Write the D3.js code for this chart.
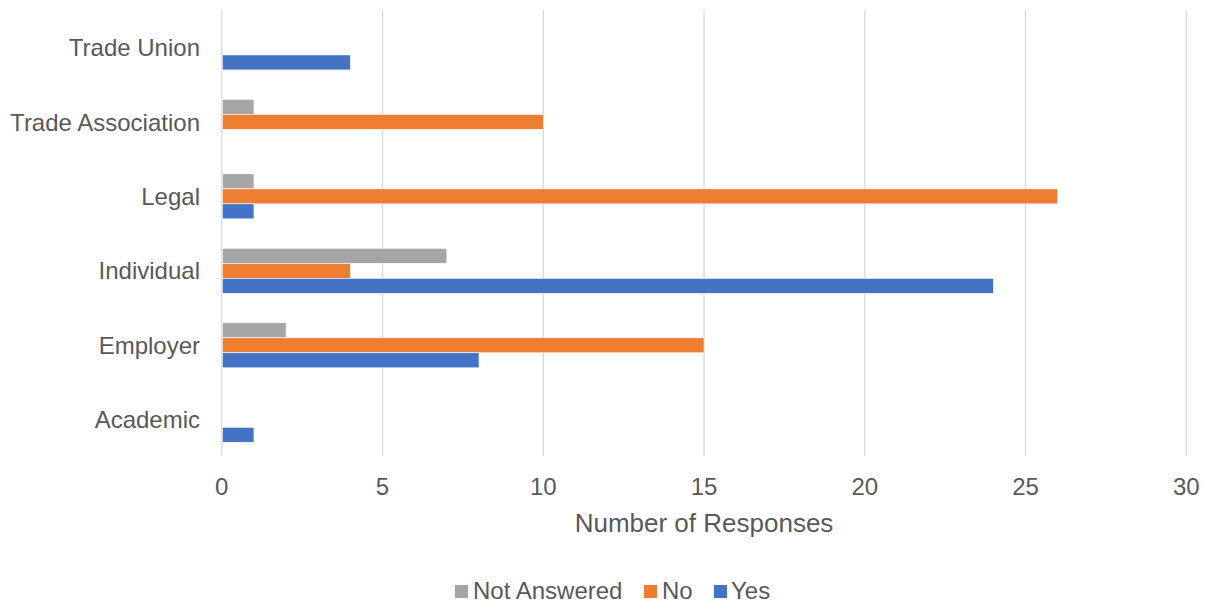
<!DOCTYPE html>
<html>
<head>
<meta charset="utf-8">
<script src="https://cdn.jsdelivr.net/npm/d3@7"></script>
<style>
  html, body { margin: 0; padding: 0; background: #fff; }
  svg text { font-family: "Liberation Sans", Arial, Helvetica, sans-serif; fill: #595959; }
</style>
</head>
<body>
<svg id="chart" width="1206" height="608"></svg>
<script>
// Data (top-to-bottom order as displayed)
const categories = ["Trade Union", "Trade Association", "Legal", "Individual", "Employer", "Academic"];
const seriesNames = ["Not Answered", "No", "Yes"];
const notAnswered = [0, 1, 1, 7, 2, 0];
const no = [0, 10, 26, 4, 15, 0];
const yes = [4, 0, 1, 24, 8, 1];
const xTicks = [0, 5, 10, 15, 20, 25, 30];
const colors = ["#A5A5A5", "#ED7D31", "#4472C4"];

const seriesValues = [notAnswered, no, yes];

const svg = d3.select("#chart");
const mLeft = 221.8, mRight = 1186.3, mTop = 10.2, mBottom = 457;

const x = d3.scaleLinear().domain([0, 30]).range([mLeft, mRight]);
const y = d3.scaleBand().domain(categories).range([mTop, mBottom]).paddingInner(0).paddingOuter(0);
const groupH = 45;
const ys = d3.scaleBand().domain(seriesNames).range([0, groupH]);

// gridlines
svg.append("g").selectAll("line").data(xTicks).join("line")
  .attr("x1", d => x(d)).attr("x2", d => x(d))
  .attr("y1", mTop).attr("y2", mBottom - 1)
  .attr("stroke", "#D9D9D9").attr("stroke-width", 1.3);

// bars
const bars = [];
categories.forEach((c, i) => {
  seriesNames.forEach((s, j) => {
    bars.push({ cat: c, series: s, value: seriesValues[j][i], color: colors[j] });
  });
});
svg.append("g").selectAll("rect").data(bars.filter(d => d.value > 0)).join("rect")
  .attr("x", x(0) + 0.5)
  .attr("y", d => y(d.cat) + y.bandwidth() / 2 - groupH / 2 + ys(d.series))
  .attr("width", d => x(d.value) - x(0) - 0.5)
  .attr("height", ys.bandwidth())
  .attr("fill", d => d.color)
  .attr("stroke", "#fff").attr("stroke-width", 0.6);

// category labels
svg.append("g").selectAll("text").data(categories).join("text")
  .attr("x", 200)
  .attr("y", d => y(d) + y.bandwidth() / 2 + 8.6)
  .attr("text-anchor", "end")
  .attr("font-size", 24)
  .text(d => d);

// x tick labels
svg.append("g").selectAll("text").data(xTicks).join("text")
  .attr("x", d => x(d))
  .attr("y", 495)
  .attr("text-anchor", "middle")
  .attr("font-size", 24)
  .text(d => d);

// axis title
svg.append("text")
  .attr("x", 704).attr("y", 532)
  .attr("text-anchor", "middle")
  .attr("font-size", 26)
  .text("Number of Responses");

// legend
const legendItems = [
  { name: "Not Answered", color: colors[0], sx: 455, tx: 473 },
  { name: "No", color: colors[1], sx: 644, tx: 662 },
  { name: "Yes", color: colors[2], sx: 714, tx: 731 }
];
const lg = svg.append("g");
lg.selectAll("rect").data(legendItems).join("rect")
  .attr("x", d => d.sx).attr("y", 585).attr("width", 13).attr("height", 13)
  .attr("fill", d => d.color);
lg.selectAll("text").data(legendItems).join("text")
  .attr("x", d => d.tx).attr("y", 599)
  .attr("font-size", 24)
  .text(d => d.name);
</script>
</body>
</html>
